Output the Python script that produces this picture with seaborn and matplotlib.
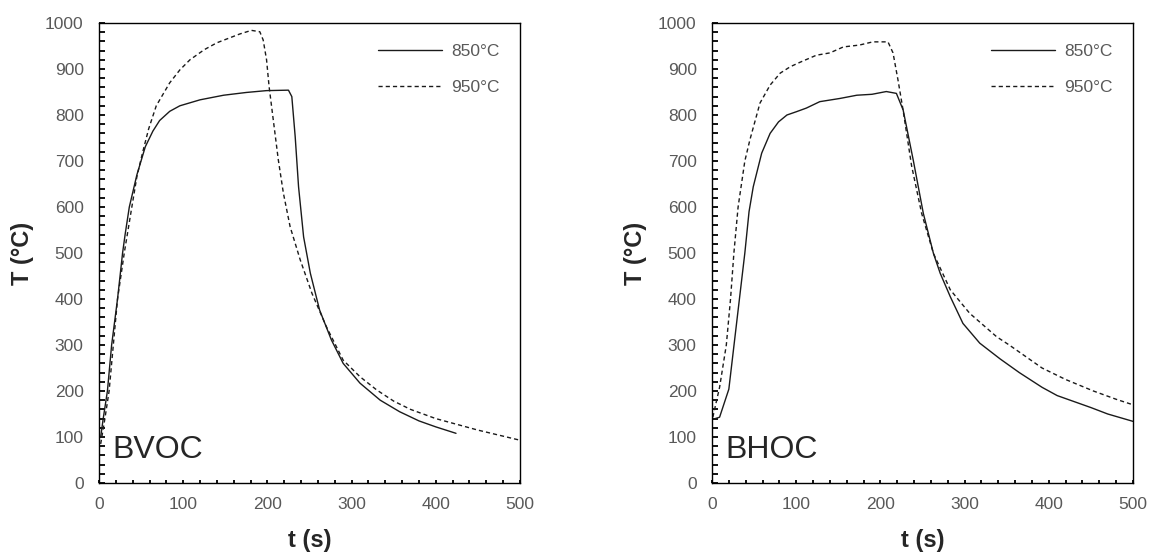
import matplotlib
matplotlib.use('Agg')
import matplotlib.pyplot as plt
import seaborn as sns
from matplotlib.ticker import MultipleLocator

########## DATA ##########
# BVOC panel
bvoc_850_t = [2, 5, 10, 15, 22, 28, 31, 36, 45, 55, 64, 72, 84, 96, 120, 148, 175, 199, 225,
              229, 233, 237, 243, 251, 262, 276, 290, 310, 334, 357, 380, 400, 424]
bvoc_850_T = [100, 140, 200, 300, 400, 500, 540, 600, 670, 731, 765, 788, 808, 820, 833, 843, 849, 853, 854,
              840, 753, 644, 535, 456, 376, 311, 260, 217, 180, 155, 135, 122, 108]
bvoc_950_t = [2, 7, 12, 17, 22, 30, 39, 45, 52, 59, 68, 84, 96, 108, 125, 140, 167, 181, 191, 195, 199,
              202, 207, 213, 219, 227, 239, 253, 270, 290, 310, 330, 350, 370, 400, 450, 500]
bvoc_950_T = [85, 140, 200, 300, 400, 500, 600, 666, 720, 770, 820, 870, 898, 920, 942, 957, 976, 984, 981, 963, 920,
              862, 789, 702, 630, 557, 485, 412, 340, 267, 231, 202, 178, 160, 140, 115, 93]

# BHOC panel
bhoc_850_t = [2, 9, 20, 30, 39, 44, 49, 59, 69, 79, 89, 100, 112, 128, 152, 172, 190, 207, 219,
              227, 239, 251, 263, 271, 283, 298, 318, 342, 365, 392, 410, 430, 450, 470, 500]
bhoc_850_T = [139, 143, 204, 360, 500, 590, 644, 717, 760, 785, 800, 807, 815, 829, 836, 843, 845, 851, 847,
              811, 702, 586, 499, 456, 405, 347, 304, 270, 240, 208, 190, 177, 164, 150, 134]
bhoc_950_t = [1, 9, 17, 22, 26, 31, 39, 45, 57, 69, 81, 93, 105, 124, 140, 156, 175, 191, 209,
              215, 221, 227, 237, 249, 263, 283, 306, 338, 353, 392, 420, 453, 480, 500]
bhoc_950_T = [143, 208, 300, 400, 500, 600, 700, 746, 826, 865, 891, 905, 915, 930, 935, 948, 952, 959, 959,
              935, 875, 810, 690, 586, 499, 420, 369, 318, 300, 250, 225, 200, 182, 170]

labels = ['850°C', '950°C']
panel_names = ['BVOC', 'BHOC']
####################################################

sns.set_style("ticks")
plt.rcParams['font.family'] = ['Liberation Sans', 'DejaVu Sans']

fig = plt.figure(figsize=(11.51, 5.52), dpi=100)
ax1 = fig.add_axes([99 / 1151, 69 / 552, 421 / 1151, 460 / 552])
ax2 = fig.add_axes([712 / 1151, 69 / 552, 421 / 1151, 460 / 552])

panels = [
    (ax1, bvoc_850_t, bvoc_850_T, bvoc_950_t, bvoc_950_T, panel_names[0]),
    (ax2, bhoc_850_t, bhoc_850_T, bhoc_950_t, bhoc_950_T, panel_names[1]),
]

grey = '#595959'
for ax, t1, T1, t2, T2, name in panels:
    sns.lineplot(x=t1, y=T1, ax=ax, color='#1a1a1a', lw=1.0, label=labels[0], sort=False)
    sns.lineplot(x=t2, y=T2, ax=ax, color='#1a1a1a', lw=1.0, label=labels[1], sort=False,
                 dashes=False, linestyle=(0, (3, 2.2)))
    ax.set_xlim(0, 500)
    ax.set_ylim(0, 1000)
    ax.xaxis.set_major_locator(MultipleLocator(100))
    ax.xaxis.set_minor_locator(MultipleLocator(20))
    ax.yaxis.set_major_locator(MultipleLocator(100))
    ax.yaxis.set_minor_locator(MultipleLocator(20))
    ax.tick_params(axis='both', which='both', direction='in', colors='black', labelcolor=grey,
                   labelsize=12.5, width=1.3)
    ax.tick_params(axis='y', which='both', length=4, pad=11)
    ax.tick_params(axis='x', which='both', length=2.5, pad=10)
    for sp in ax.spines.values():
        sp.set_visible(True)
        sp.set_color('black')
        sp.set_linewidth(1.0)
    ax.set_xlabel('t (s)', fontsize=17, fontweight='bold', labelpad=12)
    ax.set_ylabel('T (°C)', fontsize=17, fontweight='bold', labelpad=8)
    ax.text(0.032, 0.054, name, transform=ax.transAxes, fontsize=23, va='baseline', ha='left')
    ax.legend(frameon=False, loc='upper left', bbox_to_anchor=(0.663, 0.954), borderpad=0,
              borderaxespad=0, handlelength=3.7, handletextpad=0.5, labelspacing=1.2,
              fontsize=12.5, labelcolor=grey)

plt.savefig('out.png', dpi=100)
